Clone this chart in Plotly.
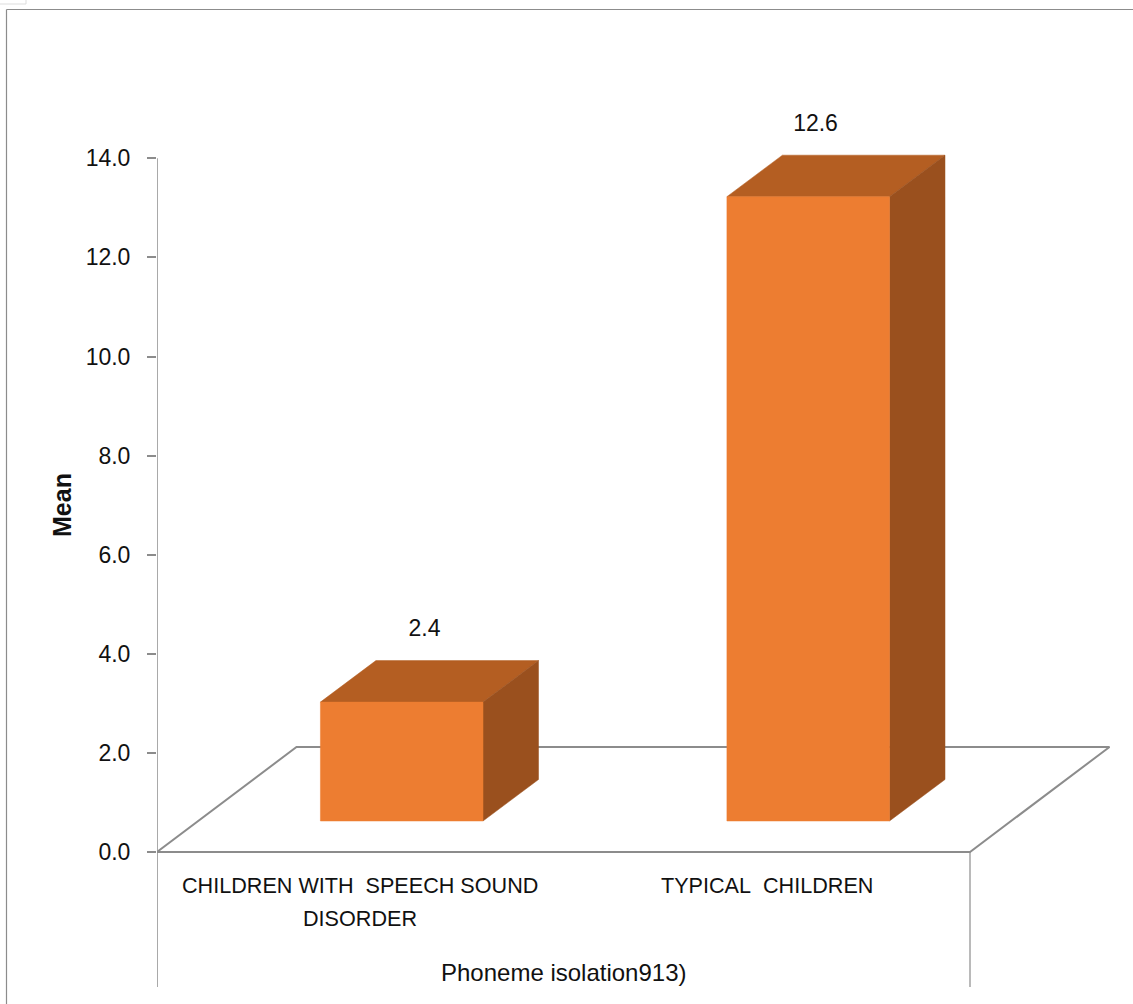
import plotly.graph_objects as go

# Chart data
category_lines = [["CHILDREN WITH\u00a0\u00a0SPEECH SOUND", "DISORDER"], ["TYPICAL\u00a0\u00a0CHILDREN"]]
means = [2.4, 12.6]
value_labels = ["2.4", "12.6"]
y_ticks = [0, 2, 4, 6, 8, 10, 12, 14]
y_tick_labels = ["0.0", "2.0", "4.0", "6.0", "8.0", "10.0", "12.0", "14.0"]
axis_title = "Mean"
group_title = "Phoneme isolation913)"

# Canvas and scale setup
W, H = 1133, 1004
LEFT = 157
ZERO_Y = 852
PX_PER_X = 406.5   # pixels per category slot
PX_PER_Y = 49.55   # pixels per unit of mean

# Oblique projection used for the pseudo-3D look (data units)
FLOOR_DX = 139.5 / PX_PER_X
FLOOR_DY = 105 / PX_PER_Y
BAR_DX = 55.5 / PX_PER_X
BAR_DY = 41.5 / PX_PER_Y
BAR_LIFT = 31 / PX_PER_Y
BAR_START = 0.402
BAR_WIDTH = 0.4
LABEL_GAP = 30 / PX_PER_Y
LABEL_SHIFT = [0.056, 0.018]   # horizontal nudge of each value label
LINE_STEP = 33 / PX_PER_Y      # spacing between wrapped category lines

FRONT = "#ED7D31"
TOP = "#B45E22"
SIDE = "#9A501E"
AXIS = "#8C8C8C"
FONT = "Liberation Sans"
TEXT = "#111111"


def polygon(xs, ys, color):
    return go.Scatter(x=xs, y=ys, mode="lines", fill="toself", fillcolor=color,
                      line=dict(color=color, width=0.5), hoverinfo="skip", showlegend=False)


def line(xs, ys, width=2):
    return go.Scatter(x=xs, y=ys, mode="lines", line=dict(color=AXIS, width=width),
                      hoverinfo="skip", showlegend=False)


fig = go.Figure()

# Value axis spine and the drop lines that frame the category labels
y_bottom = -(987 - ZERO_Y) / PX_PER_Y
fig.add_trace(line([0, 0], [y_bottom, y_ticks[-1]], 1.5))
fig.add_trace(line([2, 2], [y_bottom, 0], 1.2))

# Floor outline
fig.add_trace(line([0, FLOOR_DX, 2 + FLOOR_DX, 2, 0],
                   [0, FLOOR_DY, FLOOR_DY, 0, 0]))

# Bars: top, side and front faces
for i, v in enumerate(means):
    x0 = i + BAR_START
    x1 = x0 + BAR_WIDTH
    y0 = BAR_LIFT
    y1 = BAR_LIFT + v
    fig.add_trace(polygon([x0, x0 + BAR_DX, x1 + BAR_DX, x1, x0],
                          [y1, y1 + BAR_DY, y1 + BAR_DY, y1, y1], TOP))
    fig.add_trace(polygon([x1, x1 + BAR_DX, x1 + BAR_DX, x1, x1],
                          [y0, y0 + BAR_DY, y1 + BAR_DY, y1, y0], SIDE))
    fig.add_trace(polygon([x0, x1, x1, x0, x0], [y0, y0, y1, y1, y0], FRONT))

# Value labels above the bars
fig.add_trace(go.Scatter(
    x=[i + BAR_START + BAR_WIDTH / 2 + LABEL_SHIFT[i] for i in range(len(means))],
    y=[v + BAR_LIFT + BAR_DY + LABEL_GAP for v in means],
    mode="text", text=value_labels,
    textfont=dict(family=FONT, size=23, color=TEXT),
    hoverinfo="skip", showlegend=False))

# Category labels and the group label below the floor
annotations = []
for i, lines in enumerate(category_lines):
    for j, text in enumerate(lines):
        annotations.append(dict(
            x=i + 0.5, y=-33 / PX_PER_Y - j * LINE_STEP, xref="x", yref="y", text=text,
            showarrow=False, xanchor="center", yanchor="middle",
            font=dict(family=FONT, size=21.6, color=TEXT)))
annotations += [
    dict(x=1.0, y=-120 / PX_PER_Y, xref="x", yref="y", text=group_title, showarrow=False,
         xanchor="center", yanchor="middle", font=dict(family=FONT, size=24, color=TEXT)),
    dict(x=(62 - LEFT) / (W - LEFT), y=(H - 505) / H, xref="paper", yref="paper",
         text="<b>%s</b>" % axis_title, showarrow=False, textangle=-90,
         xanchor="center", yanchor="middle", font=dict(family=FONT, size=25, color=TEXT)),
]

frame_x = (6.5 - LEFT) / (W - LEFT)
frame_y = (H - 9.5) / H
fig.update_layout(
    width=W, height=H,
    margin=dict(l=LEFT, r=0, t=0, b=0),
    paper_bgcolor="white", plot_bgcolor="white",
    showlegend=False,
    xaxis=dict(range=[0, (W - LEFT) / PX_PER_X], visible=False, fixedrange=True),
    yaxis=dict(range=[-(H - ZERO_Y) / PX_PER_Y, ZERO_Y / PX_PER_Y],
               tickmode="array", tickvals=y_ticks, ticktext=y_tick_labels,
               showgrid=False, zeroline=False, showline=False,
               ticks="outside", ticklen=9, tickwidth=1.5, tickcolor=AXIS,
               ticklabelstandoff=12,
               tickfont=dict(family=FONT, size=23, color=TEXT), fixedrange=True),
    annotations=annotations,
    shapes=[
        # Outer chart frame
        dict(type="line", xref="paper", yref="paper", x0=frame_x, x1=1, y0=frame_y, y1=frame_y,
             line=dict(color=AXIS, width=1.2)),
        dict(type="line", xref="paper", yref="paper", x0=frame_x, x1=frame_x, y0=0, y1=frame_y,
             line=dict(color=AXIS, width=1.2)),
        # Small tab at the top-left corner
        dict(type="rect", xref="paper", yref="paper",
             x0=(-2 - LEFT) / (W - LEFT), x1=(26 - LEFT) / (W - LEFT), y0=(H - 4) / H, y1=(H + 2) / H,
             line=dict(color="#DDDDDD", width=1), fillcolor="white"),
    ],
)

fig.write_html("out.html")
